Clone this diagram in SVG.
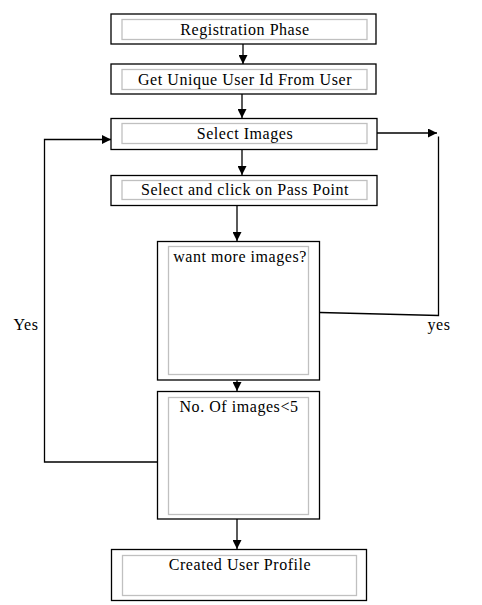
<svg xmlns="http://www.w3.org/2000/svg" width="482" height="605" viewBox="0 0 482 605">
<defs>
<style>
.outer{fill:#fff;stroke:#000;stroke-width:1.3}
.inner{fill:none;stroke:#c0c0c0;stroke-width:1.3}
.t{font-family:"Liberation Serif","Times New Roman",serif;font-size:16px;letter-spacing:0.55px;fill:#000;text-anchor:middle}
.c{fill:none;stroke:#000;stroke-width:1.3}
</style>
<marker id="ah" viewBox="0 0 10 10" refX="10" refY="5" markerWidth="9" markerHeight="9" markerUnits="userSpaceOnUse" orient="auto">
<path d="M0,0 L10,5 L0,10 z" fill="#000"/>
</marker>
</defs>
<rect width="482" height="605" fill="#fff"/>
<g id="connectors">
<line class="c" x1="243" y1="44" x2="243" y2="64" marker-end="url(#ah)"/>
<line class="c" x1="242" y1="94" x2="242" y2="118" marker-end="url(#ah)"/>
<line class="c" x1="242" y1="149" x2="242" y2="175" marker-end="url(#ah)"/>
<line class="c" x1="237" y1="206" x2="237" y2="241" marker-end="url(#ah)"/>
<line class="c" x1="237" y1="380" x2="237" y2="391" marker-end="url(#ah)"/>
<line class="c" x1="237" y1="519" x2="237" y2="549" marker-end="url(#ah)"/>
<line class="c" x1="377" y1="133" x2="437" y2="133" marker-end="url(#ah)"/>
<polyline class="c" points="438.5,136.5 438.5,315.5 320,312.5"/>
<polyline class="c" points="157,462 44.5,462 44.5,139.5 111,139.5" marker-end="url(#ah)"/>
<text class="t" x="439" y="330">yes</text>
<text class="t" x="26" y="330">Yes</text>
</g>
<g id="n1">
<rect class="outer" x="111" y="14" width="265" height="30"/>
<rect class="inner" x="122" y="19.5" width="245" height="20"/>
<text class="t" x="245" y="35">Registration Phase</text>
</g>
<g id="n2">
<rect class="outer" x="111" y="64" width="265" height="30"/>
<rect class="inner" x="122" y="69.5" width="245" height="20"/>
<text class="t" x="245" y="85">Get Unique User Id From User</text>
</g>
<g id="n3">
<rect class="outer" x="111" y="118.5" width="266" height="31"/>
<rect class="inner" x="122" y="123.5" width="245" height="20"/>
<text class="t" x="245" y="139">Select Images</text>
</g>
<g id="n4">
<rect class="outer" x="111" y="175.5" width="266" height="30"/>
<rect class="inner" x="122" y="180.5" width="245" height="19"/>
<text class="t" x="245" y="195">Select and click on Pass Point</text>
</g>
<g id="n5">
<rect class="outer" x="157.5" y="241.5" width="162" height="138.5"/>
<rect class="inner" x="168.5" y="246.5" width="140" height="128"/>
<text class="t" x="240" y="262">want more images?</text>
</g>
<g id="n6">
<rect class="outer" x="157.5" y="391.5" width="162" height="127.5"/>
<rect class="inner" x="168.5" y="397.5" width="140" height="117"/>
<text class="t" x="239" y="412">No. Of images&lt;5</text>
</g>
<g id="n7">
<rect class="outer" x="111.5" y="549.5" width="255" height="51"/>
<rect class="inner" x="122.5" y="555.5" width="234" height="40"/>
<text class="t" x="240" y="570">Created User Profile</text>
</g>
</svg>
